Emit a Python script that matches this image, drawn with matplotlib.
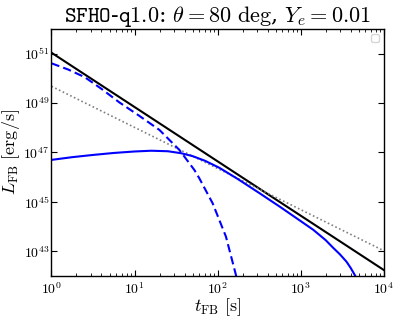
import numpy as np
import matplotlib
matplotlib.use("Agg")
import matplotlib.pyplot as plt
from matplotlib.ticker import FixedLocator, NullLocator, LogLocator

plt.rcParams['mathtext.fontset'] = 'cm'
plt.rcParams['font.family'] = ['DejaVu Serif']

# total (black)
logt_total = [0.0, 4.0]
logL_total = [51.04, 42.24]

# t^-5/3 reference (grey dotted)
logt_ref = [0.0, 4.0]
logL_ref = [49.68, 43.02]

# blue dashed component
logt_dash = [0.0, 0.2, 0.4, 0.6, 0.82, 1.05, 1.3, 1.54, 1.72, 1.78, 1.94, 2.10, 2.22, 2.30]
logL_dash = [50.61, 50.36, 50.05, 49.58, 49.02, 48.50, 47.91, 47.10, 46.29, 45.95, 44.94, 43.59, 42.04, 40.9]

# blue solid component
logt_solid = [0.0, 0.25, 0.5, 0.75, 1.0, 1.2, 1.4, 1.56, 1.7, 1.85, 2.02, 2.24, 2.5, 2.75,
              3.0, 3.15, 3.3, 3.39, 3.47, 3.55, 3.60, 3.65, 3.70]
logL_solid = [46.70, 46.81, 46.90, 46.98, 47.04, 47.07, 47.05, 46.97, 46.85, 46.66, 46.38, 45.93, 45.36, 44.80,
              44.22, 43.87, 43.45, 43.14, 42.88, 42.58, 42.33, 42.04, 41.7]

xticks = [1e0, 1e1, 1e2, 1e3, 1e4]
yticks = [1e43, 1e45, 1e47, 1e49, 1e51]

fig = plt.figure(figsize=(3.99, 3.22), dpi=100)
ax = fig.add_axes([0.129, 0.143, 0.833, 0.767])

def p(a):
    return 10 ** np.asarray(a)

ax.plot(p(logt_total), p(logL_total), color='black', lw=1.5)
ax.plot(p(logt_ref), p(logL_ref), color='grey', lw=1.2, ls=(0, (1, 1.5)))
ax.plot(p(logt_dash), p(logL_dash), color='blue', lw=1.5, ls=(0, (4, 2)))
ax.plot(p(logt_solid), p(logL_solid), color='blue', lw=1.5)

ax.set_xscale('log')
ax.set_yscale('log')
ax.set_xlim(1e0, 1e4)
ax.set_ylim(1e42, 1e52)
ax.xaxis.set_major_locator(FixedLocator(xticks))
ax.xaxis.set_minor_locator(LogLocator(base=10, subs=np.arange(2, 10)))
ax.yaxis.set_major_locator(FixedLocator(yticks))
ax.yaxis.set_minor_locator(NullLocator())
ax.set_xticklabels([r'$10^{%d}$' % int(np.log10(v)) for v in xticks])
ax.set_yticklabels([r'$10^{%d}$' % int(np.log10(v)) for v in yticks])
ax.tick_params(which='both', direction='in', top=True, right=True, labelsize=10, colors='black')
ax.tick_params(which='major', length=4, width=0.8)
ax.tick_params(which='minor', length=2, width=0.6)
ax.tick_params(axis='x', which='major', pad=4)
ax.tick_params(axis='y', which='major', pad=1.5)
for s in ax.spines.values():
    s.set_linewidth(1.0)

ax.set_xlabel(r'$t_{\rm FB}\ [{\rm s}]$', fontsize=13)
ax.set_ylabel(r'$L_{\rm FB}\ [{\rm erg/s}]$', fontsize=13)
ax.xaxis.set_label_coords(0.5, -0.083)
ax.yaxis.set_label_coords(-0.088, 0.5)
ax.set_title(r'$\mathtt{SFHO}$-$\mathtt{q1.0}$: $\theta = 80\ {\rm deg}$, $Y_e = 0.01$', fontsize=16, pad=4)
ax.legend(handles=[], loc='upper right', fontsize=7)

fig.savefig('out.png', dpi=100)
